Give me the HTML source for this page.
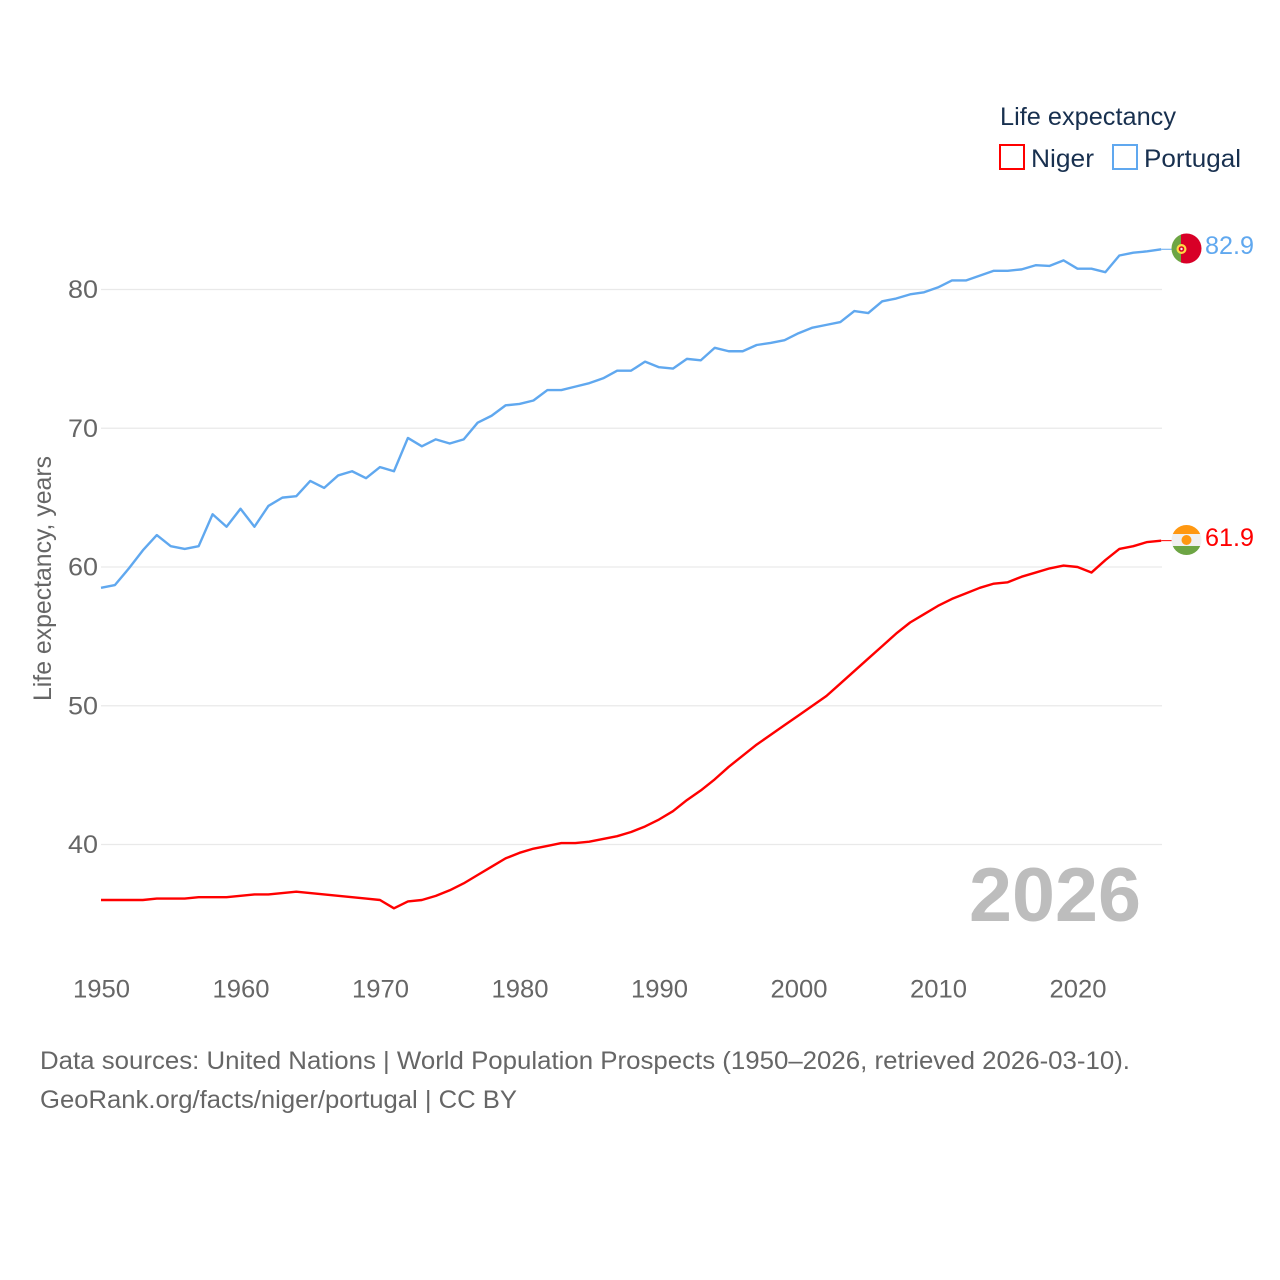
<!DOCTYPE html>
<html lang="en">
<head>
<meta charset="utf-8">
<title>Life expectancy: Niger and Portugal</title>
<style>
html,body{margin:0;padding:0;background:#fff;}
svg{display:block;font-family:"Liberation Sans",sans-serif;}
</style>
</head>
<body>
<svg id="chart" width="1280" height="1280" viewBox="0 0 1280 1280" xmlns="http://www.w3.org/2000/svg">
  <defs>
    <clipPath id="flag-pt-clip"><circle cx="1186.5" cy="248.5" r="15"></circle></clipPath>
    <clipPath id="flag-ne-clip"><circle cx="1186.5" cy="540" r="15"></circle></clipPath>
  </defs>
  <g id="grid"></g>
  <g id="yticks"></g>
  <g id="xticks"></g>
  <text transform="translate(51,701) rotate(-90)" font-size="25" fill="#666666" textLength="245" lengthAdjust="spacingAndGlyphs">Life expectancy, years</text>
  <g id="series"></g>

  <g clip-path="url(#flag-pt-clip)">
    <rect x="1170" y="232" width="12" height="33" fill="#6da544"></rect>
    <rect x="1181" y="232" width="22" height="33" fill="#d80027"></rect>
    <circle cx="1181.5" cy="249" r="5" fill="#ffda44"></circle>
    <circle cx="1181.5" cy="249" r="2.8" fill="#d80027"></circle>
    <circle cx="1181.5" cy="249" r="1.2" fill="#f0f0f0"></circle>
  </g>
  <g clip-path="url(#flag-ne-clip)">
    <rect x="1170" y="524" width="33" height="10" fill="#ff9811"></rect>
    <rect x="1170" y="534" width="33" height="12" fill="#f0f0f0"></rect>
    <rect x="1170" y="546" width="33" height="11" fill="#6da544"></rect>
    <circle cx="1186.5" cy="540" r="5" fill="#ff9811"></circle>
  </g>

  <text x="1205" y="254" font-size="25" fill="#60a8ef" textLength="49" lengthAdjust="spacingAndGlyphs">82.9</text>
  <text x="1205" y="546" font-size="25" fill="#ff0000" textLength="49" lengthAdjust="spacingAndGlyphs">61.9</text>

  <text x="969" y="921" font-size="76" font-weight="bold" fill="#bdbdbd" textLength="172" lengthAdjust="spacingAndGlyphs">2026</text>

  <g>
    <text x="1000" y="125" font-size="25" fill="#18304f" textLength="176" lengthAdjust="spacingAndGlyphs">Life expectancy</text>
    <rect x="1000" y="145" width="24" height="24" fill="none" stroke="#ff0000" stroke-width="2"></rect>
    <text x="1031" y="167" font-size="25" fill="#18304f" textLength="63" lengthAdjust="spacingAndGlyphs">Niger</text>
    <rect x="1113" y="145" width="24" height="24" fill="none" stroke="#60a8ef" stroke-width="2"></rect>
    <text x="1144" y="167" font-size="25" fill="#18304f" textLength="97" lengthAdjust="spacingAndGlyphs">Portugal</text>
  </g>

  <text x="40" y="1069" font-size="25" fill="#666666" textLength="1090" lengthAdjust="spacingAndGlyphs">Data sources: United Nations | World Population Prospects (1950–2026, retrieved 2026-03-10).</text>
  <text x="40" y="1108" font-size="25" fill="#666666" textLength="477" lengthAdjust="spacingAndGlyphs">GeoRank.org/facts/niger/portugal | CC BY</text>
</svg>
<script>
const startYear = 1950;
const yTickValues = [40, 50, 60, 70, 80];
const xTickValues = [1950, 1960, 1970, 1980, 1990, 2000, 2010, 2020];
const portugalValues = [58.5,58.7,59.9,61.2,62.3,61.5,61.3,61.5,63.8,62.9,64.2,62.9,64.4,65,65.1,66.2,65.7,66.6,66.9,66.4,67.2,66.9,69.3,68.7,69.2,68.9,69.2,70.4,70.9,71.65,71.75,72,72.75,72.75,73,73.25,73.6,74.15,74.15,74.8,74.4,74.3,75,74.9,75.8,75.55,75.55,76,76.15,76.35,76.85,77.25,77.45,77.65,78.45,78.3,79.15,79.35,79.65,79.8,80.15,80.65,80.65,81,81.35,81.35,81.45,81.75,81.7,82.1,81.5,81.5,81.25,82.45,82.65,82.75,82.9];
const nigerValues = [36,36,36,36,36.1,36.1,36.1,36.2,36.2,36.2,36.3,36.4,36.4,36.5,36.6,36.5,36.4,36.3,36.2,36.1,36,35.4,35.9,36,36.3,36.7,37.2,37.8,38.4,39,39.4,39.7,39.9,40.1,40.1,40.2,40.4,40.6,40.9,41.3,41.8,42.4,43.2,43.9,44.7,45.6,46.4,47.2,47.9,48.6,49.3,50,50.7,51.6,52.5,53.4,54.3,55.2,56,56.6,57.2,57.7,58.1,58.5,58.8,58.9,59.3,59.6,59.9,60.1,60,59.6,60.5,61.3,61.5,61.8,61.9];

const NS = 'http://www.w3.org/2000/svg';
function xScale(year) { return 101 + (year - 1950) * 13.95; }
function yScale(value) { return 844.5 - (value - 40) * 13.875; }

const gridGroup = document.getElementById('grid');
const yTickGroup = document.getElementById('yticks');
yTickValues.forEach(function (v) {
  const line = document.createElementNS(NS, 'line');
  
  
  line.setAttribute('x1', 101);
  line.setAttribute('x2', 1162);
  line.setAttribute('y1', yScale(v));
  line.setAttribute('y2', yScale(v));
  line.setAttribute('stroke', '#e9e9e9');
  line.setAttribute('stroke-width', '1.2');
  gridGroup.appendChild(line);
  const label = document.createElementNS(NS, 'text');
  
  
  label.setAttribute('x', 68);
  label.setAttribute('y', yScale(v) + 8.5);
  label.setAttribute('font-size', '25');
  label.setAttribute('fill', '#666666');
  label.setAttribute('textLength', '30');
  label.setAttribute('lengthAdjust', 'spacingAndGlyphs');
  label.textContent = v;
  yTickGroup.appendChild(label);
});

const xTickGroup = document.getElementById('xticks');
xTickValues.forEach(function (year) {
  const label = document.createElementNS(NS, 'text');
  
  
  label.setAttribute('x', xScale(year) - 28);
  label.setAttribute('y', 997.5);
  label.setAttribute('font-size', '25');
  label.setAttribute('fill', '#666666');
  label.setAttribute('textLength', '57');
  label.setAttribute('lengthAdjust', 'spacingAndGlyphs');
  label.textContent = year;
  xTickGroup.appendChild(label);
});

function pointsFor(values) {
  return values.map(function (v, i) {
    return xScale(startYear + i).toFixed(2) + ',' + yScale(v).toFixed(2);
  }).join(' ');
}

const seriesGroup = document.getElementById('series');

const nigerLine = document.createElementNS(NS, 'polyline');


nigerLine.setAttribute('points', pointsFor(nigerValues));
nigerLine.setAttribute('fill', 'none');
nigerLine.setAttribute('stroke', '#ff0000');
nigerLine.setAttribute('stroke-width', '2.4');
nigerLine.setAttribute('stroke-linejoin', 'round');
seriesGroup.appendChild(nigerLine);

const portugalLine = document.createElementNS(NS, 'polyline');


portugalLine.setAttribute('points', pointsFor(portugalValues));
portugalLine.setAttribute('fill', 'none');
portugalLine.setAttribute('stroke', '#60a8ef');
portugalLine.setAttribute('stroke-width', '2.4');
portugalLine.setAttribute('stroke-linejoin', 'round');
seriesGroup.appendChild(portugalLine);

const lastYear = startYear + portugalValues.length - 1;

const nigerConnector = document.createElementNS(NS, 'line');


nigerConnector.setAttribute('x1', xScale(lastYear));
nigerConnector.setAttribute('x2', 1172);
nigerConnector.setAttribute('y1', yScale(nigerValues[nigerValues.length - 1]));
nigerConnector.setAttribute('y2', yScale(nigerValues[nigerValues.length - 1]));
nigerConnector.setAttribute('stroke', '#ff0000');
nigerConnector.setAttribute('stroke-width', '1');
seriesGroup.appendChild(nigerConnector);

const portugalConnector = document.createElementNS(NS, 'line');


portugalConnector.setAttribute('x1', xScale(lastYear));
portugalConnector.setAttribute('x2', 1172);
portugalConnector.setAttribute('y1', yScale(portugalValues[portugalValues.length - 1]));
portugalConnector.setAttribute('y2', yScale(portugalValues[portugalValues.length - 1]));
portugalConnector.setAttribute('stroke', '#60a8ef');
portugalConnector.setAttribute('stroke-width', '1');
seriesGroup.appendChild(portugalConnector);
</script>
</body>
</html>
